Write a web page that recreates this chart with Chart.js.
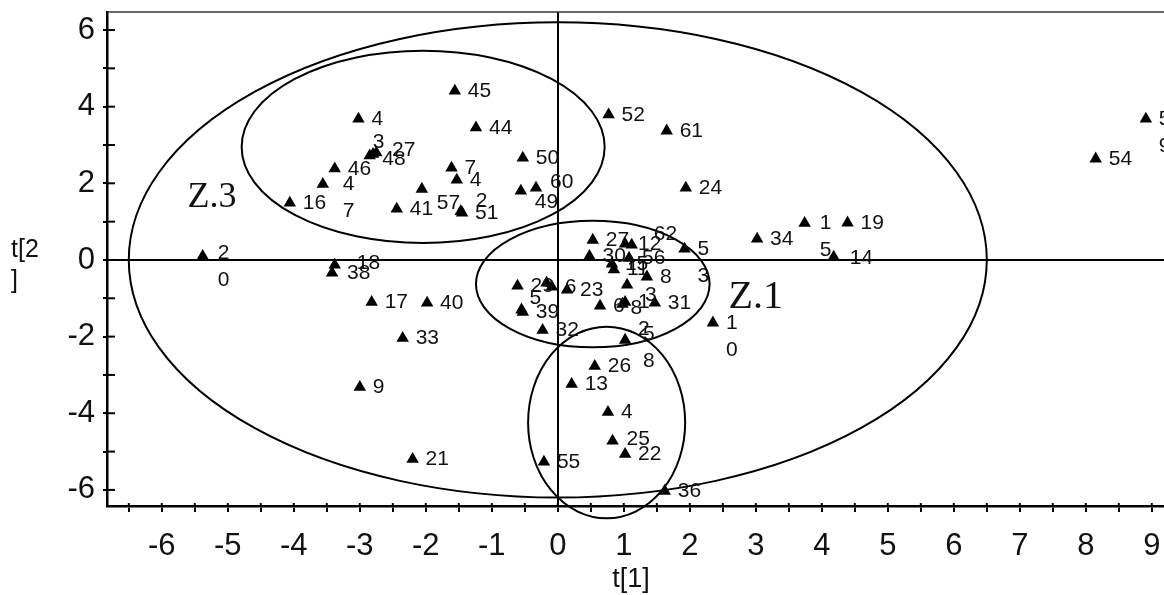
<!DOCTYPE html>
<html><head><meta charset="utf-8">
<script src="https://cdn.jsdelivr.net/npm/chart.js@4.4.0/dist/chart.umd.min.js"></script>
<style>html,body{margin:0;padding:0;background:#fff;overflow:hidden;width:1164px;height:595px}canvas{display:block}</style>
</head><body>
<canvas id="c" width="1200" height="595"></canvas>
<script>
// ---- data ----
const pointX = [-1.56,-1.24,-3.02,-2.85,-2.80,-2.75,-3.38,-3.56,-4.06,-2.44,-2.06,-1.61,-1.53,-1.45,-1.47,-0.53,-0.33,-0.56,0.77,1.65,1.94,3.02,3.74,4.39,4.18,8.15,8.91,-5.38,-3.38,-3.42,-2.82,-1.98,-2.35,-3.00,-2.20,-0.21,1.62,1.02,0.83,0.76,0.21,0.56,2.35,1.92,0.53,0.48,1.02,1.12,0.82,1.08,0.85,1.35,1.05,1.47,1.02,0.64,1.02,-0.61,-0.17,-0.09,0.14,-0.53,-0.55,-0.23,0.98];
const pointY = [4.41,3.45,3.68,2.72,2.76,2.80,2.38,1.98,1.49,1.33,1.85,2.40,2.09,1.23,1.27,2.66,1.88,1.80,3.79,3.37,1.88,0.55,0.96,0.97,0.08,2.64,3.68,0.10,-0.13,-0.34,-1.10,-1.12,-2.04,-3.32,-5.20,-5.27,-6.03,-5.07,-4.72,-3.97,-3.24,-2.77,-1.64,0.29,0.52,0.10,0.42,0.39,-0.10,0.05,-0.25,-0.44,-0.65,-1.12,-1.10,-1.20,-2.09,-0.68,-0.60,-0.70,-0.78,-1.36,-1.30,-1.83,-1.15];
const pointLabels = ["45","44","4","3","27","48","46","4\n7","16","41","57","7","4","51","2","50","60","49","52","61","24","34","1\n5","19","14","54","5\n9","2\n0","18","38","17","40","33","9","21","55","36","22","25","4","13","26","1\n0","5\n3","27","30","12","62","15","56","11","8","3","31","1\n2","6","5\n8","29","","6","23","39","5","32","8"];
const ellipseCx = [0, -2.04, 0.53, 0.74];
const ellipseCy = [0, 2.95, -0.63, -4.24];
const ellipseRx = [6.5, 2.75, 1.77, 1.19];
const ellipseRy = [6.2, 2.51, 1.65, 2.5];
const zoneNames = ["Z.3", "Z.1"];
const zoneX = [-5.24, 3.0];
const zoneY = [1.62, -0.99];
const xTitle = "t[1]";
const yTitleLines = ["t[2", "]"];

// ---- layout-only label nudges (px) ----
const labelNudge = {3:[-10,-14],4:[6,-4],5:[-7,7],7:[7,0],10:[2,14],14:[2,-10],16:[1,-6],17:[1,11],22:[2,0],24:[3,1],27:[2,-3],28:[9,-2],29:[2,0],38:[1,-2],47:[9,-11],52:[5,10],56:[5,-6],62:[-5,-12],64:[-5,4]};

const FONT = "'Liberation Sans', Arial, sans-serif";
const overlay = {
  id: 'overlay',
  beforeDatasetsDraw(chart) {
    const {ctx, scales:{x, y}} = chart;
    ctx.save();
    ctx.strokeStyle = '#000'; ctx.lineWidth = 2;
    ellipseCx.forEach((cx, i) => {
      const px = x.getPixelForValue(cx), py = y.getPixelForValue(ellipseCy[i]);
      const rx = Math.abs(x.getPixelForValue(cx + ellipseRx[i]) - px);
      const ry = Math.abs(y.getPixelForValue(ellipseCy[i] + ellipseRy[i]) - py);
      ctx.beginPath(); ctx.ellipse(px, py, rx, ry, 0, 0, Math.PI * 2); ctx.stroke();
    });
    ctx.fillStyle = '#111';
    ctx.textAlign = 'center'; ctx.textBaseline = 'middle';
    zoneNames.forEach((n, i) => {
      ctx.font = (i === 0 ? 36 : 40) + "px 'Liberation Serif', 'Times New Roman', serif";
      ctx.fillText(n, x.getPixelForValue(zoneX[i]), y.getPixelForValue(zoneY[i]));
    });
    ctx.restore();
  },
  afterDatasetsDraw(chart) {
    const {ctx} = chart;
    const meta = chart.getDatasetMeta(0);
    ctx.save();
    ctx.fillStyle = '#111'; ctx.font = '21px ' + FONT;
    ctx.textAlign = 'left'; ctx.textBaseline = 'middle';
    meta.data.forEach((el, i) => {
      const lab = pointLabels[i]; if (!lab) return;
      const n = labelNudge[i] || [0, 0];
      lab.split('\n').forEach((line, k) => {
        ctx.fillText(line, el.x + 13 + n[0], el.y + n[1] + k * 27);
      });
    });
    ctx.restore();
  },
  afterDraw(chart) {
    const {ctx, chartArea:a, scales:{x, y}} = chart;
    ctx.save();
    ctx.strokeStyle = '#000'; ctx.lineWidth = 2;
    x.ticks.forEach(t => { const p = x.getPixelForValue(t.value); ctx.beginPath(); ctx.moveTo(p, a.bottom); ctx.lineTo(p, a.bottom - 3); ctx.stroke(); });
    y.ticks.forEach(t => { const p = y.getPixelForValue(t.value); ctx.beginPath(); ctx.moveTo(a.left, p); ctx.lineTo(a.left + 8, p); ctx.stroke(); });
    ctx.strokeStyle = '#333'; ctx.lineWidth = 1.5;
    ctx.beginPath(); ctx.moveTo(a.left, a.top); ctx.lineTo(a.right, a.top); ctx.stroke();
    ctx.fillStyle = '#111'; ctx.textBaseline = 'middle';
    ctx.font = '27px ' + FONT; ctx.textAlign = 'center';
    ctx.fillText(xTitle, a.left + 524, 580);
    ctx.font = '25px ' + FONT; ctx.textAlign = 'left';
    yTitleLines.forEach((l, k) => ctx.fillText(l, 11, 250 + k * 31));
    ctx.restore();
  }
};

const noPad = s => { s.paddingTop = 0; s.paddingBottom = 0; s.paddingLeft = 0; s.paddingRight = 0; };
const zeroOnly = c => (c.tick && Math.abs(c.tick.value) < 1e-9) ? '#000' : 'rgba(0,0,0,0)';
new Chart(document.getElementById('c'), {
  type: 'scatter',
  data: { datasets: [{
    data: pointX.map((v, i) => ({x: v, y: pointY[i]})),
    pointStyle: 'triangle', pointRadius: 7.2, pointHoverRadius: 7.2,
    backgroundColor: '#000', borderColor: '#000', borderWidth: 0
  }]},
  options: {
    responsive: false, animation: false,
    layout: { padding: { top: 12, right: 8.6, left: 0, bottom: 0 } },
    plugins: { legend: { display: false }, tooltip: { enabled: false } },
    scales: {
      x: {
        type: 'linear', min: -6.83, max: 9.6,
        afterFit: s => { s.height = 89; noPad(s); },
        ticks: { stepSize: 0.5, includeBounds: false, autoSkip: false, maxRotation: 0, padding: 16,
          color: '#111', font: { size: 31, family: FONT },
          callback: v => Number.isInteger(v) ? String(v) : '' },
        grid: { color: zeroOnly, lineWidth: 2, drawTicks: true, tickLength: 6, tickColor: '#000', tickWidth: 2 },
        border: { display: true, color: '#000', width: 2.5 }
      },
      y: {
        type: 'linear', min: -6.42, max: 6.47,
        afterFit: s => { s.width = 107; noPad(s); },
        ticks: { stepSize: 1, includeBounds: false, autoSkip: false, padding: 8,
          color: '#111', font: { size: 31, family: FONT },
          callback: v => (Number.isInteger(v) && v % 2 === 0) ? String(v) : '' },
        grid: { color: zeroOnly, lineWidth: 2, drawTicks: true, tickLength: 4, tickColor: '#000', tickWidth: 2 },
        border: { display: true, color: '#000', width: 2.5 }
      }
    }
  },
  plugins: [overlay]
});
</script>
</body></html>
